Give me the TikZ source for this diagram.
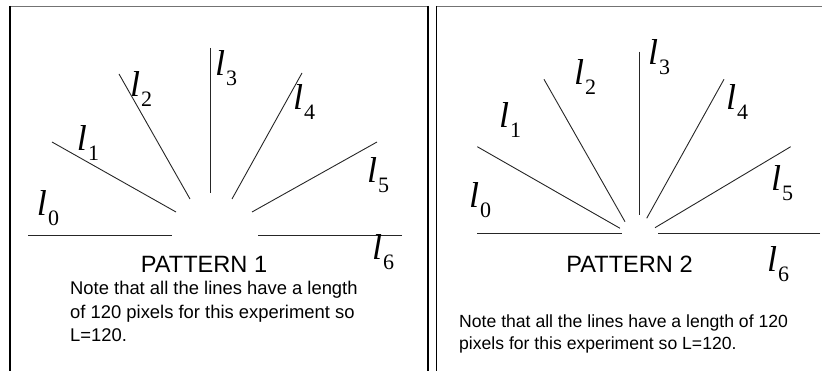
\documentclass[tikz,border=0pt]{standalone}
\usepackage{fontspec}
\setmainfont{Liberation Sans}
\newfontfamily\ellfont{Liberation Serif}
\newcommand\ellsub[1]{{\ellfont\fontsize{36}{36}\selectfont\itshape l}\kern1pt\raisebox{-10pt}{\ellfont\fontsize{22}{22}\selectfont #1}}
\tikzset{
  fan/.style={line width=0.9pt, black!85},
  lbl/.style={inner sep=0pt, anchor=center},
  title/.style={inner sep=0pt, anchor=base, font=\fontsize{23.6}{24}\selectfont},
  bodyA/.style={inner sep=0pt, anchor=base west, font=\fontsize{18.4}{18.4}\selectfont},
  bodyB/.style={inner sep=0pt, anchor=base west, font=\fontsize{17.6}{17.6}\selectfont},
  frameside/.style={line width=1.8pt, black},
  frametop/.style={line width=1.4pt, black!55},
}
\begin{document}
\begin{tikzpicture}[x=1pt,y=-1pt]
\useasboundingbox (0,0) rectangle (822,371);
% frames
\draw[frametop] (10,6.5) -- (428,6.5);
\draw[frametop] (436.5,6.5) -- (822,6.5);
\draw[frameside] (10,6) -- (10,371);
\draw[frameside] (428,6) -- (428,371);
\draw[frameside] (436.5,6) -- (436.5,371);

% ---------- Pattern 1 ----------
\coordinate (a0o) at (28,235);    \coordinate (a0i) at (172,235);
\coordinate (a1o) at (52,142);    \coordinate (a1i) at (176,212);
\coordinate (a2o) at (119,74);    \coordinate (a2i) at (190,199);
\coordinate (a3o) at (210.7,48);  \coordinate (a3i) at (210.7,193);
\coordinate (a4o) at (302,73);    \coordinate (a4i) at (232,199);
\coordinate (a5o) at (377,142);   \coordinate (a5i) at (252,212);
\coordinate (a6o) at (402,235);   \coordinate (a6i) at (258,235);
\foreach \i in {0,...,6} {\draw[fan] (a\i o) -- (a\i i);}

\node[lbl] (la0) at (48,208) {\ellsub{0}};
\node[lbl] (la1) at (88,143) {\ellsub{1}};
\node[lbl] (la2) at (141,89) {\ellsub{2}};
\node[lbl] (la3) at (226,68) {\ellsub{3}};
\node[lbl] (la4) at (304,102) {\ellsub{4}};
\node[lbl] (la5) at (378,175) {\ellsub{5}};
\node[lbl] (la6) at (383,252) {\ellsub{6}};

\node[title] (t1) at (204,272.7) {PATTERN 1};
\node[bodyA] (n1a) at (70,295) {Note that all the lines have a length};
\node[bodyA] (n1b) at (70,318.3) {of 120 pixels for this experiment so};
\node[bodyA] (n1c) at (70,341.7) {L=120.};

% ---------- Pattern 2 ----------
\coordinate (b0o) at (477.3,233.3); \coordinate (b0i) at (621.7,233.3);
\coordinate (b1o) at (477.3,146.7); \coordinate (b1i) at (620,228.3);
\coordinate (b2o) at (544,79.3);    \coordinate (b2i) at (625,221.7);
\coordinate (b3o) at (639.3,51.7);  \coordinate (b3i) at (639.3,215);
\coordinate (b4o) at (724,79.3);    \coordinate (b4i) at (646.7,218.3);
\coordinate (b5o) at (790.7,146.7); \coordinate (b5i) at (655,227.7);
\coordinate (b6o) at (820,233.3);   \coordinate (b6i) at (657.7,233.3);
\foreach \i in {0,...,6} {\draw[fan] (b\i o) -- (b\i i);}

\node[lbl] (lb0) at (480,200) {\ellsub{0}};
\node[lbl] (lb1) at (510,120) {\ellsub{1}};
\node[lbl] (lb2) at (585,77) {\ellsub{2}};
\node[lbl] (lb3) at (659,57) {\ellsub{3}};
\node[lbl] (lb4) at (737,102) {\ellsub{4}};
\node[lbl] (lb5) at (782,183) {\ellsub{5}};
\node[lbl] (lb6) at (778,264) {\ellsub{6}};

\node[title] (t2) at (629.5,273) {PATTERN 2};
\node[bodyB] (n2a) at (459,327) {Note that all the lines have a length of 120};
\node[bodyB] (n2b) at (459,349) {pixels for this experiment so L=120.};
\end{tikzpicture}
\end{document}
